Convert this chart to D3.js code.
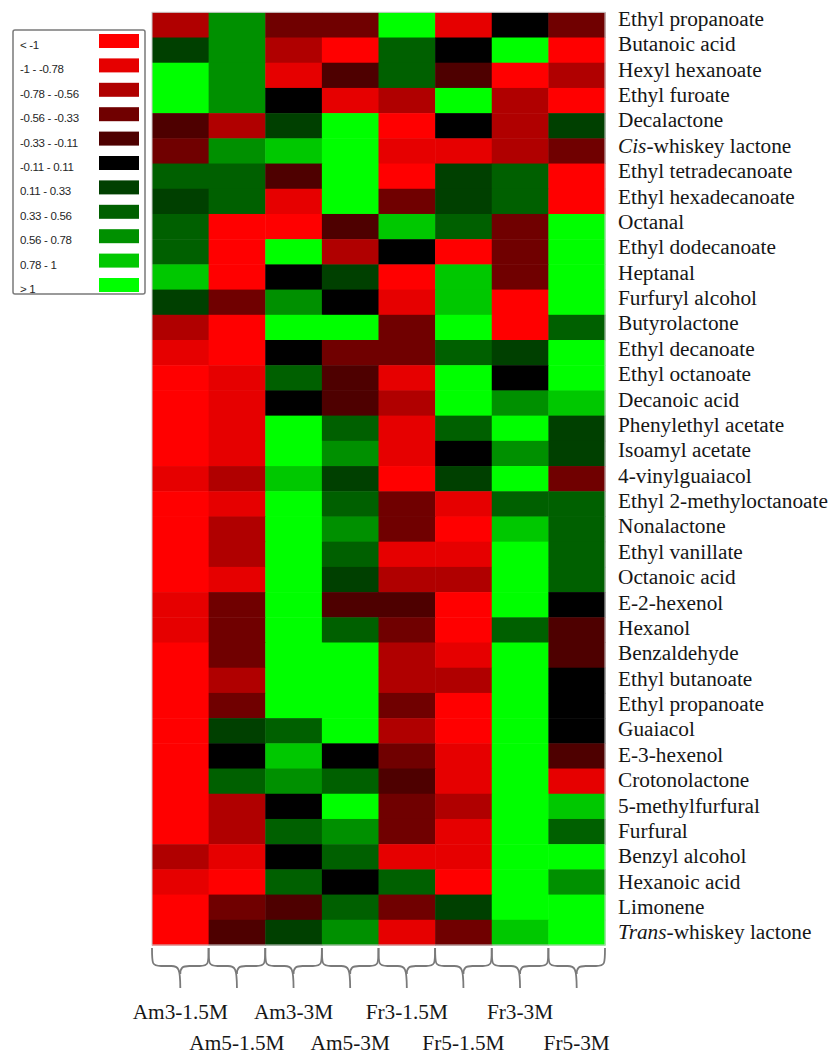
<!DOCTYPE html>
<html lang="en">
  <head>
    <meta charset="UTF-8" />
    <title>Heatmap</title>
    <script src="https://d3js.org/d3.v7.min.js"></script>
    <style>
      body {
        margin: 0;
        background-color: #fff;
      }
      svg {
        display: block;
      }
      .row-label,
      .col-label {
        font-family: "Liberation Serif", "Times New Roman", serif;
        font-size: 21.3px;
        fill: #161616;
      }
      .legend-label {
        font-family: "Liberation Sans", Arial, sans-serif;
        font-size: 11.5px;
        fill: #262626;
        letter-spacing: -0.3px;
      }
    </style>
  </head>
  <body>
    <div id="chart"></div>
    <script>
      const samples = [
        "Am3-1.5M", "Am5-1.5M", "Am3-3M", "Am5-3M",
        "Fr3-1.5M", "Fr5-1.5M", "Fr3-3M", "Fr5-3M",
      ];

      const compounds = [
        "Ethyl propanoate", "Butanoic acid", "Hexyl hexanoate", "Ethyl furoate",
        "Decalactone", "Cis-whiskey lactone", "Ethyl tetradecanoate",
        "Ethyl hexadecanoate", "Octanal", "Ethyl dodecanoate", "Heptanal",
        "Furfuryl alcohol", "Butyrolactone", "Ethyl decanoate", "Ethyl octanoate",
        "Decanoic acid", "Phenylethyl acetate", "Isoamyl acetate",
        "4-vinylguaiacol", "Ethyl 2-methyloctanoate", "Nonalactone",
        "Ethyl vanillate", "Octanoic acid", "E-2-hexenol", "Hexanol",
        "Benzaldehyde", "Ethyl butanoate", "Ethyl propanoate", "Guaiacol",
        "E-3-hexenol", "Crotonolactone", "5-methylfurfural", "Furfural",
        "Benzyl alcohol", "Hexanoic acid", "Limonene", "Trans-whiskey lactone",
      ];

      // one row per compound, one value per sample (estimated from colour class)
      const values = [
        [-0.67, 0.67, -0.45, -0.45, 1.2, -0.9, 0, -0.45],
        [0.22, 0.67, -0.67, -1.2, 0.45, 0, 1.2, -1.2],
        [1.2, 0.67, -0.9, -0.22, 0.45, -0.22, -1.2, -0.67],
        [1.2, 0.67, 0, -0.9, -0.67, 1.2, -0.67, -1.2],
        [-0.22, -0.67, 0.22, 1.2, -1.2, 0, -0.67, 0.22],
        [-0.45, 0.67, 0.9, 1.2, -0.9, -0.9, -0.67, -0.45],
        [0.45, 0.45, -0.22, 1.2, -1.2, 0.22, 0.45, -1.2],
        [0.22, 0.45, -0.9, 1.2, -0.45, 0.22, 0.45, -1.2],
        [0.45, -1.2, -1.2, -0.22, 0.9, 0.45, -0.45, 1.2],
        [0.45, -1.2, 1.2, -0.67, 0, -1.2, -0.45, 1.2],
        [0.9, -1.2, 0, 0.22, -1.2, 0.9, -0.45, 1.2],
        [0.22, -0.45, 0.67, 0, -0.9, 0.9, -1.2, 1.2],
        [-0.67, -1.2, 1.2, 1.2, -0.45, 1.2, -1.2, 0.45],
        [-0.9, -1.2, 0, -0.45, -0.45, 0.45, 0.22, 1.2],
        [-1.2, -0.9, 0.45, -0.22, -0.9, 1.2, 0, 1.2],
        [-1.2, -0.9, 0, -0.22, -0.67, 1.2, 0.67, 0.9],
        [-1.2, -0.9, 1.2, 0.45, -0.9, 0.45, 1.2, 0.22],
        [-1.2, -0.9, 1.2, 0.67, -0.9, 0, 0.67, 0.22],
        [-0.9, -0.67, 0.9, 0.22, -1.2, 0.22, 1.2, -0.45],
        [-1.2, -0.9, 1.2, 0.45, -0.45, -0.9, 0.45, 0.45],
        [-1.2, -0.67, 1.2, 0.67, -0.45, -1.2, 0.9, 0.45],
        [-1.2, -0.67, 1.2, 0.45, -0.9, -0.9, 1.2, 0.45],
        [-1.2, -0.9, 1.2, 0.22, -0.67, -0.67, 1.2, 0.45],
        [-0.9, -0.45, 1.2, -0.22, -0.22, -1.2, 1.2, 0],
        [-0.9, -0.45, 1.2, 0.45, -0.45, -1.2, 0.45, -0.22],
        [-1.2, -0.45, 1.2, 1.2, -0.67, -0.9, 1.2, -0.22],
        [-1.2, -0.67, 1.2, 1.2, -0.67, -0.67, 1.2, 0],
        [-1.2, -0.45, 1.2, 1.2, -0.45, -1.2, 1.2, 0],
        [-1.2, 0.22, 0.45, 1.2, -0.67, -1.2, 1.2, 0],
        [-1.2, 0, 0.9, 0, -0.45, -0.9, 1.2, -0.22],
        [-1.2, 0.45, 0.67, 0.45, -0.22, -0.9, 1.2, -0.9],
        [-1.2, -0.67, 0, 1.2, -0.45, -0.67, 1.2, 0.9],
        [-1.2, -0.67, 0.45, 0.67, -0.45, -0.9, 1.2, 0.45],
        [-0.67, -0.9, 0, 0.45, -0.9, -0.9, 1.2, 1.2],
        [-0.9, -1.2, 0.45, 0, 0.45, -1.2, 1.2, 0.67],
        [-1.2, -0.45, -0.22, 0.45, -0.45, 0.22, 1.2, 1.2],
        [-1.2, -0.22, 0.22, 0.67, -0.9, -0.45, 0.9, 1.2],
      ];

      const breaks = [-1, -0.78, -0.56, -0.33, -0.11, 0.11, 0.33, 0.56, 0.78, 1];
      const legendLabels = [
        "< -1", "-1 - -0.78", "-0.78 - -0.56", "-0.56 - -0.33", "-0.33 - -0.11",
        "-0.11 - 0.11", "0.11 - 0.33", "0.33 - 0.56", "0.56 - 0.78", "0.78 - 1", "> 1",
      ];
      const colors = [
        "#ff0000", "#e60000", "#b00000", "#700000", "#4e0000", "#000000",
        "#004000", "#006000", "#009000", "#00c800", "#00ff00",
      ];

      const width = 832;
      const height = 1057;

      const svg = d3
        .select("#chart")
        .append("svg")
        .attr("width", width)
        .attr("height", height);

      const color = d3.scaleThreshold().domain(breaks).range(colors);

      const x = d3.scaleBand().domain(d3.range(samples.length)).range([152, 605]);
      const y = d3.scaleBand().domain(d3.range(compounds.length)).range([12.3, 945]);
      const labelY = d3.scalePoint().domain(d3.range(compounds.length)).range([18.5, 932]);

      // cells
      const cells = [];
      values.forEach((row, i) => {
        row.forEach((v, j) => cells.push({ i, j, v }));
      });

      svg
        .append("g")
        .selectAll("rect")
        .data(cells)
        .enter()
        .append("rect")
        .attr("x", (d) => x(d.j))
        .attr("y", (d) => y(d.i))
        .attr("width", x.bandwidth() + 0.5)
        .attr("height", y.bandwidth() + 0.5)
        .attr("fill", (d) => color(d.v));

      svg
        .append("rect")
        .attr("x", 152)
        .attr("y", 12.3)
        .attr("width", 605 - 152)
        .attr("height", 945 - 12.3)
        .attr("fill", "none")
        .attr("stroke", "#c8c8c8")
        .attr("stroke-width", 1);

      // row labels, italic prefix for Cis-/Trans-
      const rowLabels = svg
        .append("g")
        .selectAll("text")
        .data(compounds)
        .enter()
        .append("text")
        .attr("class", "row-label")
        .attr("x", 618)
        .attr("y", (d, i) => labelY(i))
        .attr("dy", "0.35em");

      rowLabels.each(function (d) {
        const t = d3.select(this);
        const m = d.match(/^(Cis|Trans)(-.*)$/);
        if (m) {
          t.append("tspan").attr("font-style", "italic").text(m[1]);
          t.append("tspan").text(m[2]);
        } else {
          t.text(d);
        }
      });

      // braces under each column
      const by0 = 948;
      const byh = 966;
      const byt = 988;
      function brace(j) {
        const x0 = x(j);
        const x1 = x(j) + x.bandwidth();
        const xm = (x0 + x1) / 2;
        return (
          `M${x0},${by0} C${x0},${byh - 2} ${x0},${byh} ${x0 + 9},${byh}` +
          ` L${xm - 9},${byh} C${xm - 2},${byh} ${xm},${byh + 2} ${xm},${byt}` +
          ` M${xm},${byh + 8} C${xm},${byh + 2} ${xm + 2},${byh} ${xm + 9},${byh}` +
          ` L${x1 - 9},${byh} C${x1},${byh} ${x1},${byh - 2} ${x1},${by0}`
        );
      }

      svg
        .append("g")
        .selectAll("path")
        .data(samples)
        .enter()
        .append("path")
        .attr("d", (d, j) => brace(j))
        .attr("fill", "none")
        .attr("stroke", "#7a7a7a")
        .attr("stroke-width", 1.8);

      // column labels in two staggered lines
      svg
        .append("g")
        .selectAll("text")
        .data(samples)
        .enter()
        .append("text")
        .attr("class", "col-label")
        .attr("x", (d, j) => x(j) + x.bandwidth() / 2)
        .attr("y", (d, j) => (j % 2 === 0 ? 1012 : 1043))
        .attr("dy", "0.35em")
        .attr("text-anchor", "middle")
        .text((d) => d);

      // legend
      const legend = svg.append("g");
      legend
        .append("rect")
        .attr("x", 13)
        .attr("y", 30)
        .attr("width", 132)
        .attr("height", 264)
        .attr("rx", 2)
        .attr("fill", "#fff")
        .attr("stroke", "#7a7a7a")
        .attr("stroke-width", 1.5);

      const ly = d3.scalePoint().domain(d3.range(legendLabels.length)).range([41, 285]);

      legend
        .selectAll(".swatch")
        .data(legendLabels)
        .enter()
        .append("rect")
        .attr("class", "swatch")
        .attr("x", 99)
        .attr("y", (d, i) => ly(i) - 7)
        .attr("width", 40)
        .attr("height", 14)
        .attr("fill", (d, i) => colors[i]);

      legend
        .selectAll(".legend-label")
        .data(legendLabels)
        .enter()
        .append("text")
        .attr("class", "legend-label")
        .attr("x", 20)
        .attr("y", (d, i) => ly(i) + 4)
        .attr("dy", "0.35em")
        .text((d) => d);
    </script>
  </body>
</html>
